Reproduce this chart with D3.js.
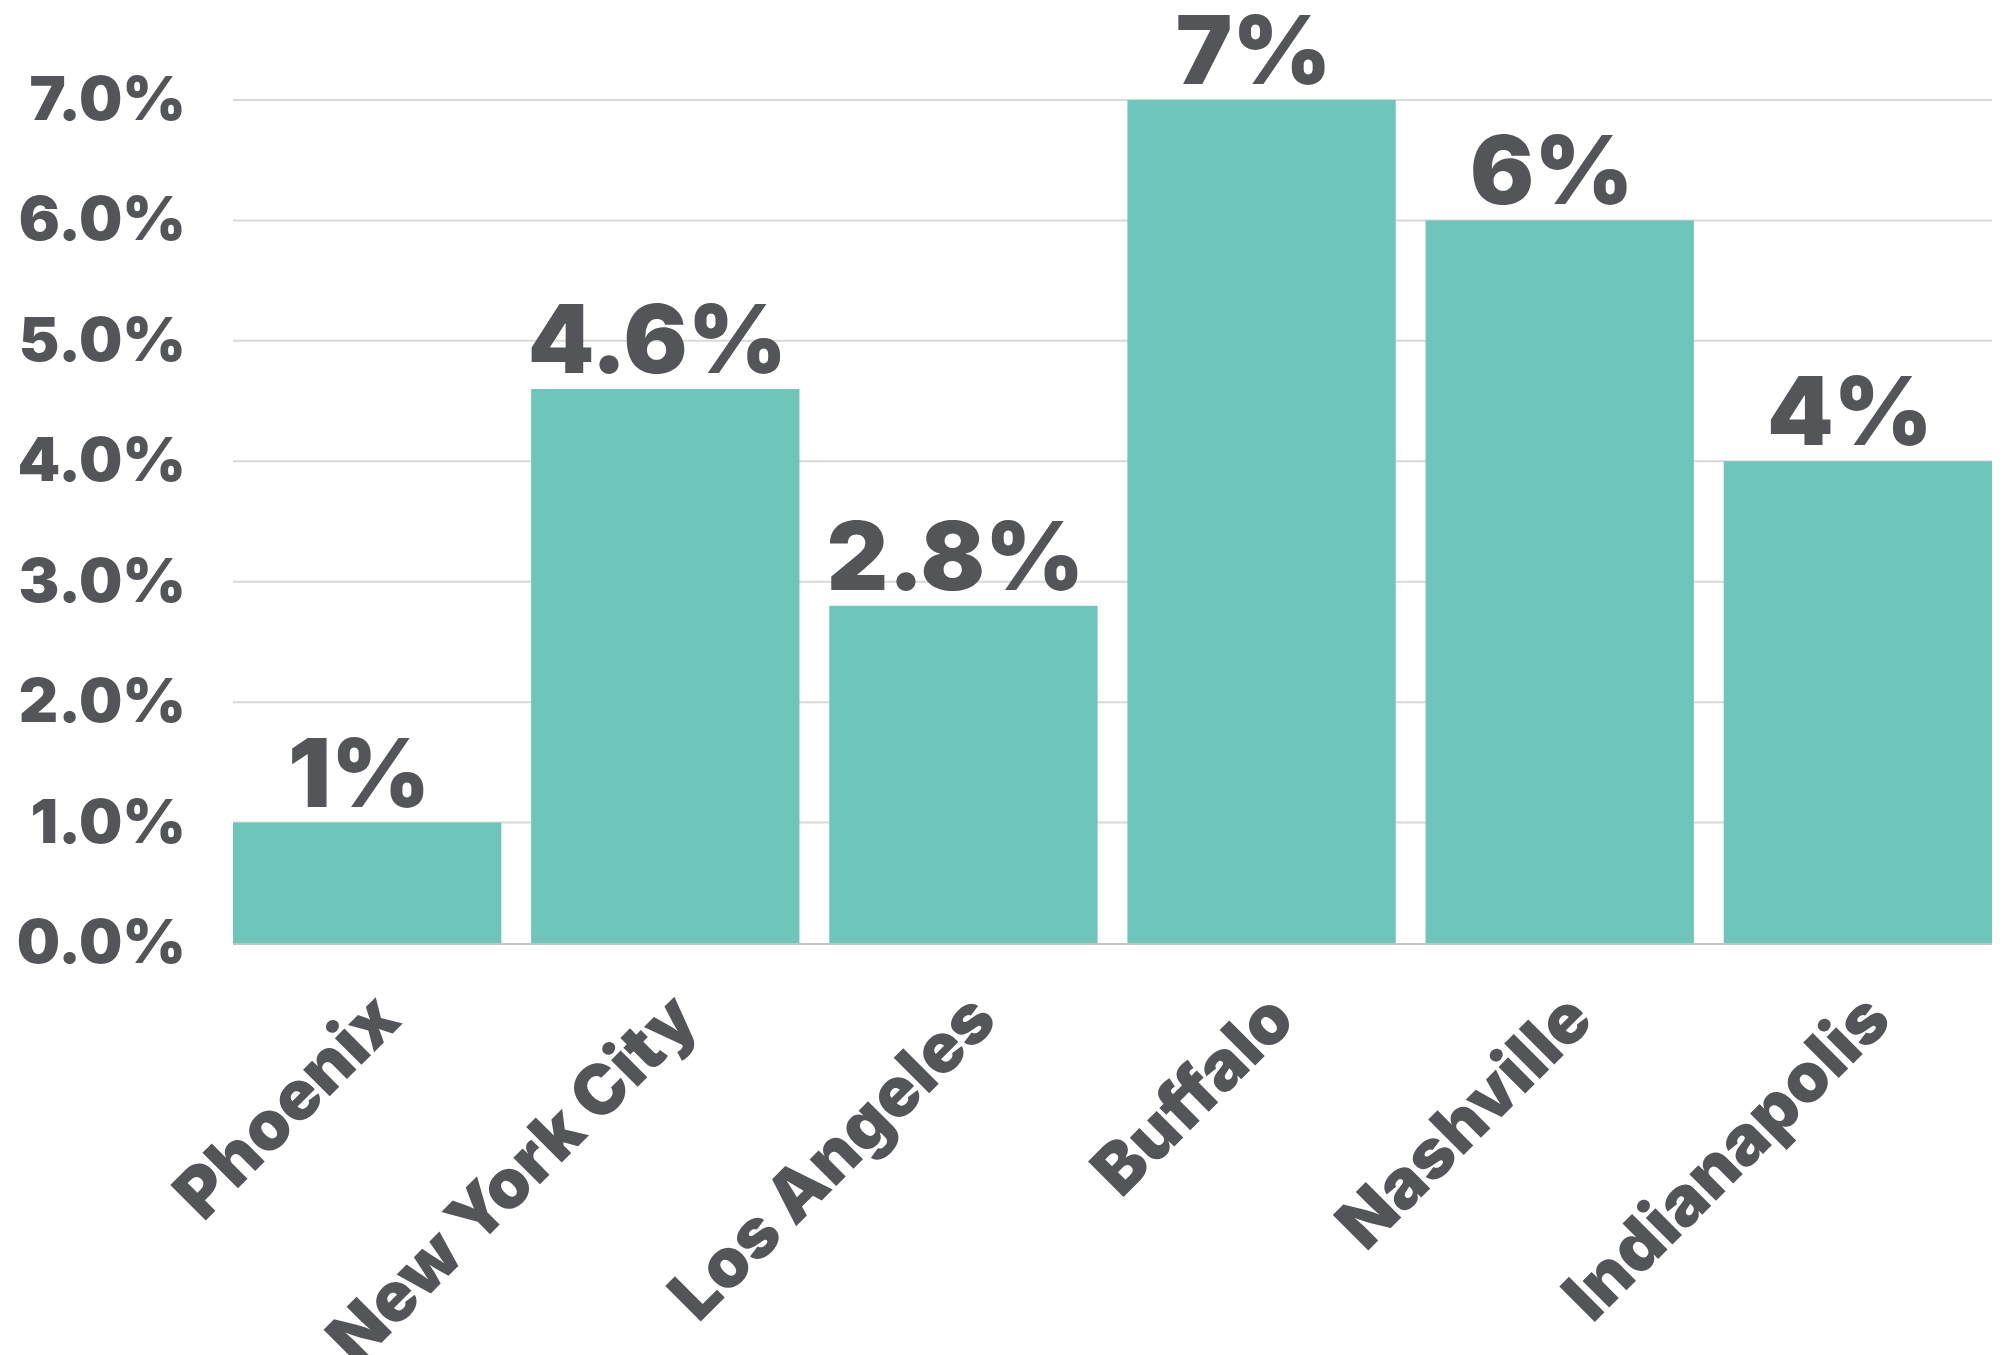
<!DOCTYPE html>
<html lang="en">
<head>
    <meta charset="UTF-8">
    <title>Rate by City</title>
    <script src="https://d3js.org/d3.v7.min.js"></script>
    <style>
        body { margin: 0; background: #fff; }
        text { font-family: Inter, "Open Sans", sans-serif; fill: #535559; }
    </style>
</head>
<body>
    <div id="chart"></div>

    <script>
        // Data
        var cities = ["Phoenix", "New York City", "Los Angeles", "Buffalo", "Nashville", "Indianapolis"];
        var rates = [1, 4.6, 2.8, 7, 6, 4];
        var yTicks = [0, 1, 2, 3, 4, 5, 6, 7];

        var width = 2006, height = 1355;
        var margin = { top: 100, right: 14, bottom: 412, left: 233 };

        var svg = d3.select("#chart")
            .append("svg")
            .attr("width", width)
            .attr("height", height);

        var x = d3.scaleBand()
            .domain(cities)
            .range([margin.left, width - margin.right])
            .paddingInner(0.1)
            .paddingOuter(0);

        var y = d3.scaleLinear()
            .domain([0, 7])
            .range([height - margin.bottom, margin.top]);

        // Gridlines
        svg.append("g")
            .selectAll("line")
            .data(yTicks.slice(1))
            .enter()
            .append("line")
            .attr("x1", margin.left)
            .attr("x2", width - margin.right)
            .attr("y1", function (d) { return y(d); })
            .attr("y2", function (d) { return y(d); })
            .attr("stroke", "#d9d9d9")
            .attr("stroke-width", 2);

        // Bars
        svg.append("g")
            .selectAll("rect")
            .data(rates)
            .enter()
            .append("rect")
            .attr("x", function (d, i) { return x(cities[i]); })
            .attr("y", function (d) { return y(d); })
            .attr("width", x.bandwidth())
            .attr("height", function (d) { return y(0) - y(d); })
            .attr("fill", "#6ec6bb");

        // Baseline
        svg.append("line")
            .attr("x1", margin.left)
            .attr("x2", width - margin.right)
            .attr("y1", y(0) + 1)
            .attr("y2", y(0) + 1)
            .attr("stroke", "#c4c4c4")
            .attr("stroke-width", 2);

        // Y axis
        var yAxis = svg.append("g")
            .attr("transform", "translate(" + margin.left + ",0)")
            .call(d3.axisLeft(y)
                .tickValues(yTicks)
                .tickSize(0)
                .tickPadding(47)
                .tickFormat(function (d) { return d.toFixed(1) + "%"; }));
        yAxis.select(".domain").remove();
        yAxis.selectAll("text")
            .style("font-size", "61px")
            .style("font-weight", 900)
            .style("fill", "#535559");

        // X axis
        var xAxis = svg.append("g")
            .attr("transform", "translate(0," + y(0) + ")")
            .call(d3.axisBottom(x).tickSize(0).tickPadding(0));
        xAxis.select(".domain").remove();
        xAxis.selectAll("text")
            .attr("transform", "translate(36,80) rotate(-45)")
            .attr("dy", 0)
            .attr("y", 0)
            .style("text-anchor", "end")
            .style("font-size", "69px")
            .style("font-weight", 900)
            .style("fill", "#535559");

        // Value labels
        svg.append("g")
            .selectAll("text")
            .data(rates)
            .enter()
            .append("text")
            .attr("x", function (d, i) { return x(cities[i]) + x.bandwidth() / 2 - 8; })
            .attr("y", function (d) { return y(d) - 16; })
            .attr("text-anchor", "middle")
            .style("font-size", "95px")
            .style("font-weight", 900)
            .text(function (d) { return d + "%"; });
    </script>
</body>
</html>
